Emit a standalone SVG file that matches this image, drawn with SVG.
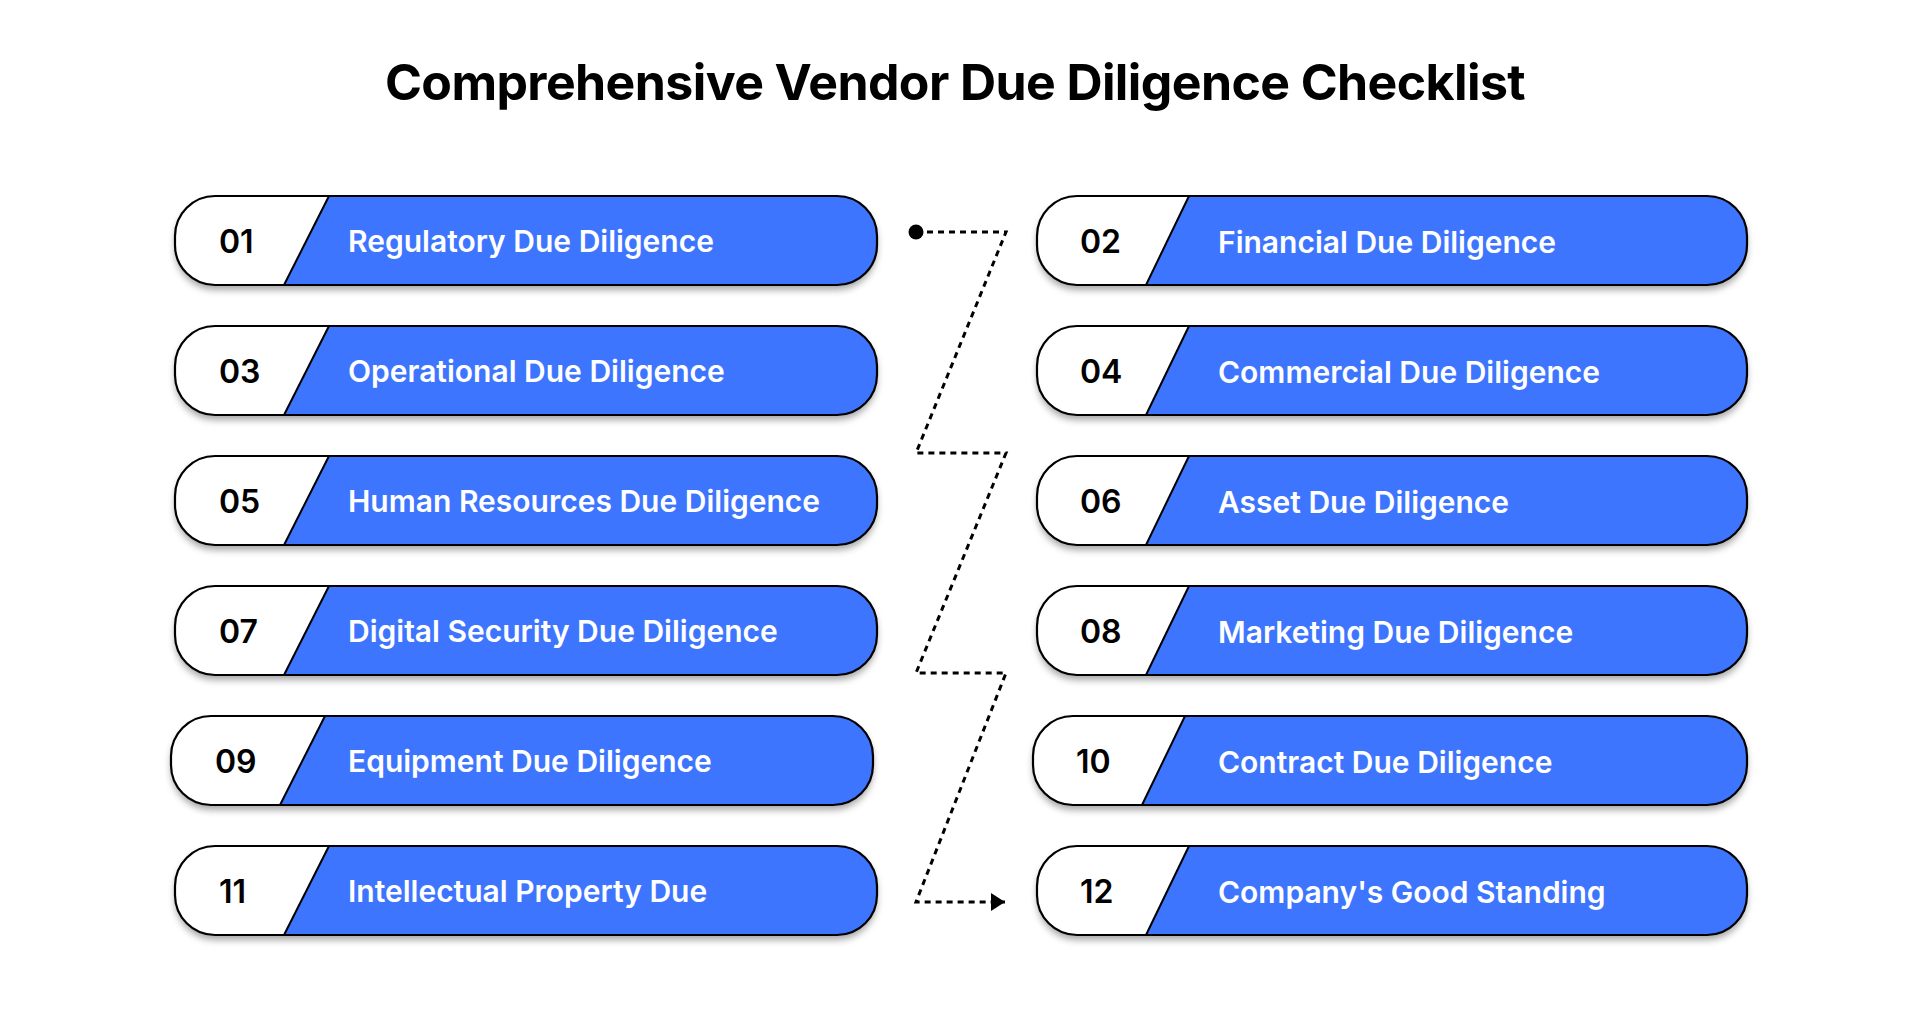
<svg xmlns="http://www.w3.org/2000/svg" xmlns:xlink="http://www.w3.org/1999/xlink" width="1920" height="1031" viewBox="0 0 1920 1031">
<style>
.title{font-family:Inter,"Liberation Sans",sans-serif;font-weight:700;font-size:50px;letter-spacing:-0.6px;fill:#000;}
.num{font-family:Inter,"Liberation Sans",sans-serif;font-weight:600;font-size:32px;fill:#000;}
.lbl{font-family:Inter,"Liberation Sans",sans-serif;font-weight:600;font-size:30px;fill:#fff;}
.outline{fill:none;stroke:#000;stroke-width:2.2;}
.conn{fill:none;stroke:#000;stroke-width:3;stroke-dasharray:6 5;}
</style>
<defs>
<filter id="sh" x="-5%" y="-20%" width="110%" height="150%">
<feDropShadow dx="0" dy="5" stdDeviation="3.5" flood-color="#000" flood-opacity="0.35"/>
</filter>
<marker id="arr" markerUnits="userSpaceOnUse" markerWidth="16" markerHeight="18" refX="14" refY="9" orient="auto">
<path d="M0,0 L14,9 L0,18 Z" fill="#000"/>
</marker>
<g id="pillL">
<rect x="0" y="0" width="702" height="89" rx="40" ry="40" fill="#fff" filter="url(#sh)"/>
<path d="M154,0 H662 A40,40 0 0 1 702,40 V49 A40,40 0 0 1 662,89 H109 Z" fill="#3E75FE"/>
<line x1="154" y1="0" x2="109" y2="89" stroke="#000" stroke-width="2"/>
<rect class="outline" x="0" y="0" width="702" height="89" rx="40" ry="40"/>
</g>
<g id="pillR">
<rect x="0" y="0" width="710" height="89" rx="40" ry="40" fill="#fff" filter="url(#sh)"/>
<path d="M152,0 H670 A40,40 0 0 1 710,40 V49 A40,40 0 0 1 670,89 H109 Z" fill="#3E75FE"/>
<line x1="152" y1="0" x2="109" y2="89" stroke="#000" stroke-width="2"/>
<rect class="outline" x="0" y="0" width="710" height="89" rx="40" ry="40"/>
</g>
<g id="pillR2">
<rect x="0" y="0" width="714" height="89" rx="40" ry="40" fill="#fff" filter="url(#sh)"/>
<path d="M152,0 H674 A40,40 0 0 1 714,40 V49 A40,40 0 0 1 674,89 H109 Z" fill="#3E75FE"/>
<line x1="152" y1="0" x2="109" y2="89" stroke="#000" stroke-width="2"/>
<rect class="outline" x="0" y="0" width="714" height="89" rx="40" ry="40"/>
</g>
</defs>
<rect width="1920" height="1031" fill="#fff"/>
<text class="title" x="955" y="100" text-anchor="middle">Comprehensive Vendor Due Diligence Checklist</text>

<g id="connectors">
<path class="conn" d="M916,232 H1006 L916,453 H1006 L916,673 H1006 L916,902 H1005" marker-end="url(#arr)"/>
<circle cx="916" cy="232" r="7.5" fill="#000"/>
</g>

<g id="n01" transform="translate(175,196)"><use xlink:href="#pillL"/><text class="num" x="44" y="57">01</text><text class="lbl" x="173" y="56">Regulatory Due Diligence</text></g>
<g id="n03" transform="translate(175,326)"><use xlink:href="#pillL"/><text class="num" x="44" y="57">03</text><text class="lbl" x="173" y="56">Operational Due Diligence</text></g>
<g id="n05" transform="translate(175,456)"><use xlink:href="#pillL"/><text class="num" x="44" y="57">05</text><text class="lbl" x="173" y="56">Human Resources Due Diligence</text></g>
<g id="n07" transform="translate(175,586)"><use xlink:href="#pillL"/><text class="num" x="44" y="57">07</text><text class="lbl" x="173" y="56">Digital Security Due Diligence</text></g>
<g id="n09" transform="translate(171,716)"><use xlink:href="#pillL"/><text class="num" x="44" y="57">09</text><text class="lbl" x="177" y="56">Equipment Due Diligence</text></g>
<g id="n11" transform="translate(175,846)"><use xlink:href="#pillL"/><text class="num" x="44" y="57">11</text><text class="lbl" x="173" y="56">Intellectual Property Due</text></g>

<g id="n02" transform="translate(1037,196)"><use xlink:href="#pillR"/><text class="num" x="43" y="57">02</text><text class="lbl" x="181" y="57">Financial Due Diligence</text></g>
<g id="n04" transform="translate(1037,326)"><use xlink:href="#pillR"/><text class="num" x="43" y="57">04</text><text class="lbl" x="181" y="57">Commercial Due Diligence</text></g>
<g id="n06" transform="translate(1037,456)"><use xlink:href="#pillR"/><text class="num" x="43" y="57">06</text><text class="lbl" x="181" y="57">Asset Due Diligence</text></g>
<g id="n08" transform="translate(1037,586)"><use xlink:href="#pillR"/><text class="num" x="43" y="57">08</text><text class="lbl" x="181" y="57">Marketing Due Diligence</text></g>
<g id="n10" transform="translate(1033,716)"><use xlink:href="#pillR2"/><text class="num" x="43" y="57">10</text><text class="lbl" x="185" y="57">Contract Due Diligence</text></g>
<g id="n12" transform="translate(1037,846)"><use xlink:href="#pillR"/><text class="num" x="43" y="57">12</text><text class="lbl" x="181" y="57">Company's Good Standing</text></g>
</svg>
